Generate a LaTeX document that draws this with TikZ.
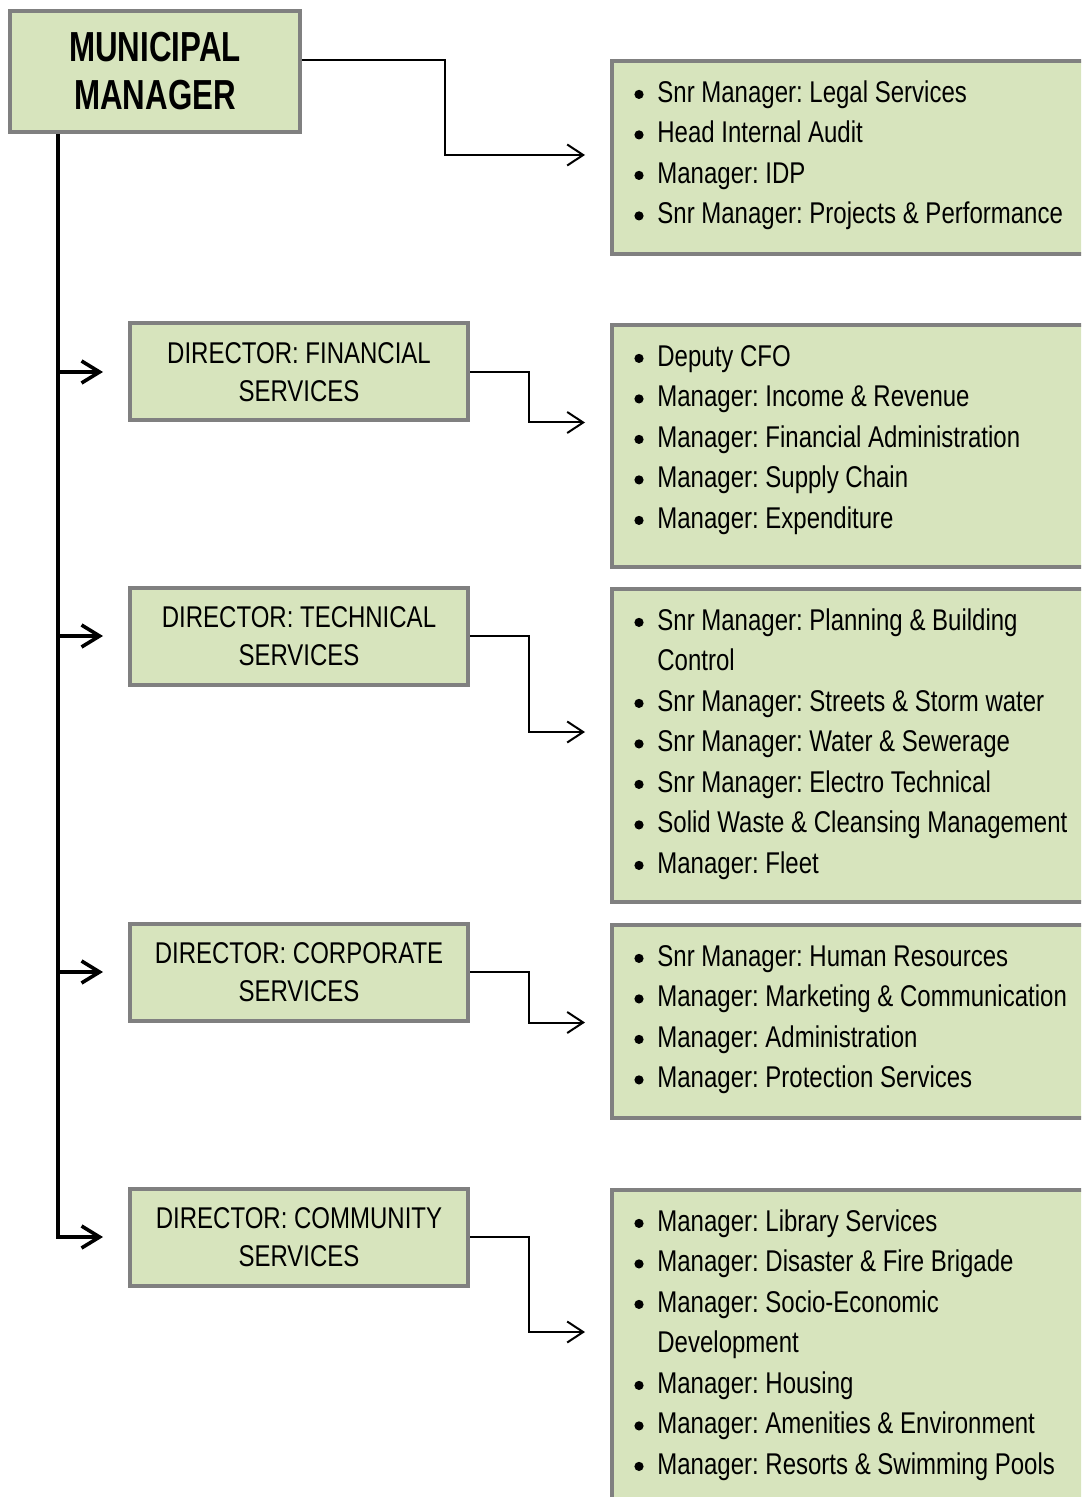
\documentclass[tikz,border=0pt]{standalone}
\usepackage{fontspec}
\setmainfont{Liberation Sans}[FakeStretch=0.8]
\newfontfamily\headfont{Liberation Sans}[FakeStretch=0.745]
\usetikzlibrary{arrows.meta,calc}
\definecolor{BoxGreen}{HTML}{D7E4BD}
\definecolor{BoxGray}{HTML}{808080}
\frenchspacing
\tikzset{
  box/.style={rectangle, draw=BoxGray, fill=BoxGreen, line width=2pt, inner sep=0pt},
  head/.style={box, minimum width=145pt, minimum height=60.5pt, align=center,
    font=\fontsize{21}{24}\headfont\bfseries},
  director/.style={box, minimum width=169pt, minimum height=48.5pt, align=center,
    font=\fontsize{15}{19}\selectfont},
  staff/.style={box, anchor=north west, minimum width=250pt},
  list/.style={anchor=north west, inner sep=0pt, align=left,
    font=\fontsize{15}{20.25}\selectfont},
  trunk/.style={draw, line width=1.8pt, -{Straight Barb[length=9pt,width=11pt,line width=1.8pt]}},
  link/.style={draw, line width=1pt, -{Straight Barb[length=8pt,width=10.5pt,line width=1pt]}}
}
\newcommand{\itm}{\rule{0pt}{11pt}\makebox[11.5pt][l]{\tikz[baseline]\fill (2.3pt,4pt) circle (2.3pt);}}
\newcommand{\cnt}{\hspace*{11.5pt}}

\begin{document}
\begin{tikzpicture}[x=0.5pt,y=-0.5pt]
\clip (0,0) rectangle (1081,1497);

% top of the tree
\node[head] (mm) at (155,71.5) {MUNICIPAL\\MANAGER};

% directors
\node[director] (fin)  at (299,372)  {DIRECTOR: FINANCIAL\\SERVICES};
\node[director] (tech) at (299,636)  {DIRECTOR: TECHNICAL\\SERVICES};
\node[director] (corp) at (299,972)  {DIRECTOR: CORPORATE\\SERVICES};
\node[director] (comm) at (299,1237) {DIRECTOR: COMMUNITY\\SERVICES};

% sections reporting to each
\node[staff, minimum height=96.5pt] (office)  at (610,59)   {};
\node[staff, minimum height=121pt]  (finance) at (610,323)  {};
\node[staff, minimum height=156.5pt](techn)   at (610,587)  {};
\node[staff, minimum height=96.5pt] (corpo)   at (610,923)  {};
\node[staff, minimum height=200pt]  (commu)   at (610,1188) {};

\node[list] (officelist) at ($(office.north west)+(24,21)$) {
\itm Snr Manager: Legal Services\\
\itm Head Internal Audit\\
\itm Manager: IDP\\
\itm Snr Manager: Projects \& Performance};

\node[list] (financelist) at ($(finance.north west)+(24,21)$) {
\itm Deputy CFO\\
\itm Manager: Income \& Revenue\\
\itm Manager: Financial Administration\\
\itm Manager: Supply Chain\\
\itm Manager: Expenditure};

\node[list] (technlist) at ($(techn.north west)+(24,21)$) {
\itm Snr Manager: Planning \& Building\\
\cnt Control\\
\itm Snr Manager: Streets \& Storm water\\
\itm Snr Manager: Water \& Sewerage\\
\itm Snr Manager: Electro Technical\\
\itm Solid Waste \& Cleansing Management\\
\itm Manager: Fleet};

\node[list] (corpolist) at ($(corpo.north west)+(24,21)$) {
\itm Snr Manager: Human Resources\\
\itm Manager: Marketing \& Communication\\
\itm Manager: Administration\\
\itm Manager: Protection Services};

\node[list] (commulist) at ($(commu.north west)+(24,21)$) {
\itm Manager: Library Services\\
\itm Manager: Disaster \& Fire Brigade\\
\itm Manager: Socio-Economic\\
\cnt Development\\
\itm Manager: Housing\\
\itm Manager: Amenities \& Environment\\
\itm Manager: Resorts \& Swimming Pools};

% arrow ends
\coordinate (trunktop) at ($(mm.south west)+(50,0)$);
\coordinate (tip1) at ($(office.west |- 0,155)+(-25,0)$);
\coordinate (tip2) at ($(finance.west |- fin.south)+(-25,0)$);
\coordinate (tip3) at ($(techn.west |- 0,732)+(-25,0)$);
\coordinate (tip4) at ($(corpo.west |- corp.south)+(-25,0)$);
\coordinate (tip5) at ($(commu.west |- 0,1332)+(-25,0)$);

% trunk
\draw[trunk] (trunktop) |- ($(comm.west)+(-25,0)$);
\draw[trunk] (fin.west -| trunktop)  -- ($(fin.west)+(-25,0)$);
\draw[trunk] (tech.west -| trunktop) -- ($(tech.west)+(-25,0)$);
\draw[trunk] (corp.west -| trunktop) -- ($(corp.west)+(-25,0)$);

% links to sections
\draw[link] ($(mm.east)+(0,-11)$) -- ++(143,0) |- (tip1);
\draw[link] (fin.east)  -- ++(59,0) |- (tip2);
\draw[link] (tech.east) -- ++(59,0) |- (tip3);
\draw[link] (corp.east) -- ++(59,0) |- (tip4);
\draw[link] (comm.east) -- ++(59,0) |- (tip5);

\end{tikzpicture}
\end{document}
